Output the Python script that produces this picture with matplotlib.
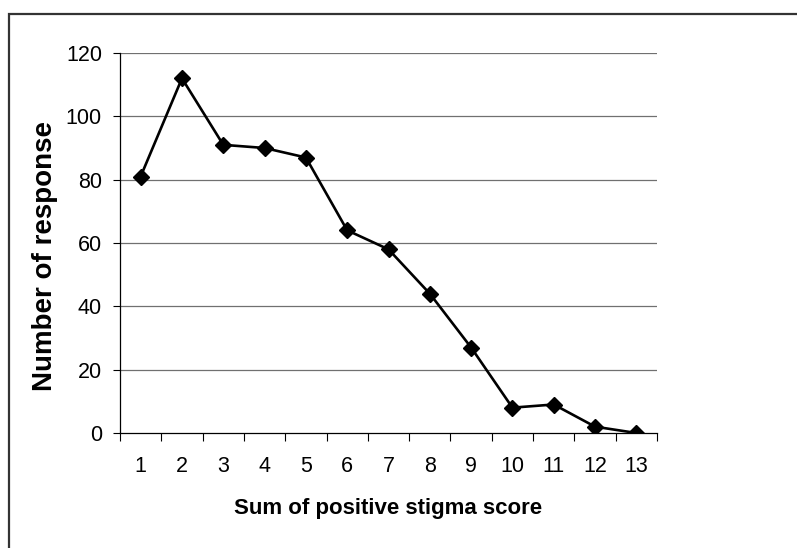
import matplotlib
matplotlib.use('Agg')
import matplotlib.pyplot as plt
from matplotlib.patches import Rectangle

plt.rcParams['font.family'] = ['Liberation Sans', 'DejaVu Sans']

scores = [1, 2, 3, 4, 5, 6, 7, 8, 9, 10, 11, 12, 13]
responses = [81, 112, 91, 90, 87, 64, 58, 44, 27, 8, 9, 2, 0]
y_ticks = [0, 20, 40, 60, 80, 100, 120]

W, H = 797, 548
fig = plt.figure(figsize=(W / 100, H / 100), dpi=100)

# outer chart border (right/bottom edges fall outside the image)
fig.patches.append(Rectangle((8.5 / W, -0.1), 1.2, 1 - 14 / H + 0.1,
                             transform=fig.transFigure, fill=False,
                             edgecolor='#333333', linewidth=1.6))

ax = fig.add_axes([120 / W, 1 - 433 / H, 537 / W, 380 / H])

ax.plot(scores, responses, color='black', linewidth=1.9,
        marker='D', markersize=8.5, markerfacecolor='black', zorder=3)

ax.set_xlim(0.5, 13.5)
ax.set_ylim(0, 120)
ax.set_yticks(y_ticks)
ax.set_xticks([i + 0.5 for i in range(14)])
ax.set_xticklabels([])
ax.set_xticks(scores, minor=True)
ax.set_xticklabels([str(s) for s in scores], minor=True)

ax.tick_params(axis='x', which='major', length=6, width=0.8, direction='out')
ax.tick_params(axis='x', which='minor', length=0, pad=16.5, labelsize=15.5)
ax.tick_params(axis='y', length=5, width=0.8, pad=8, labelsize=15.5)

for y in y_ticks[1:]:
    ax.axhline(y, color='#707070', linewidth=0.9, zorder=1)

for s in ['top', 'right']:
    ax.spines[s].set_visible(False)
ax.spines['left'].set_linewidth(0.9)
ax.spines['bottom'].set_linewidth(0.9)

ax.set_xlabel('Sum of positive stigma score', fontsize=16, fontweight='bold')
ax.set_ylabel('Number of response', fontsize=20, fontweight='bold')
ax.xaxis.set_label_coords(0.5, -0.172)
ax.yaxis.set_label_coords(-0.116, 0.466)

fig.savefig('out.png', dpi=100)
